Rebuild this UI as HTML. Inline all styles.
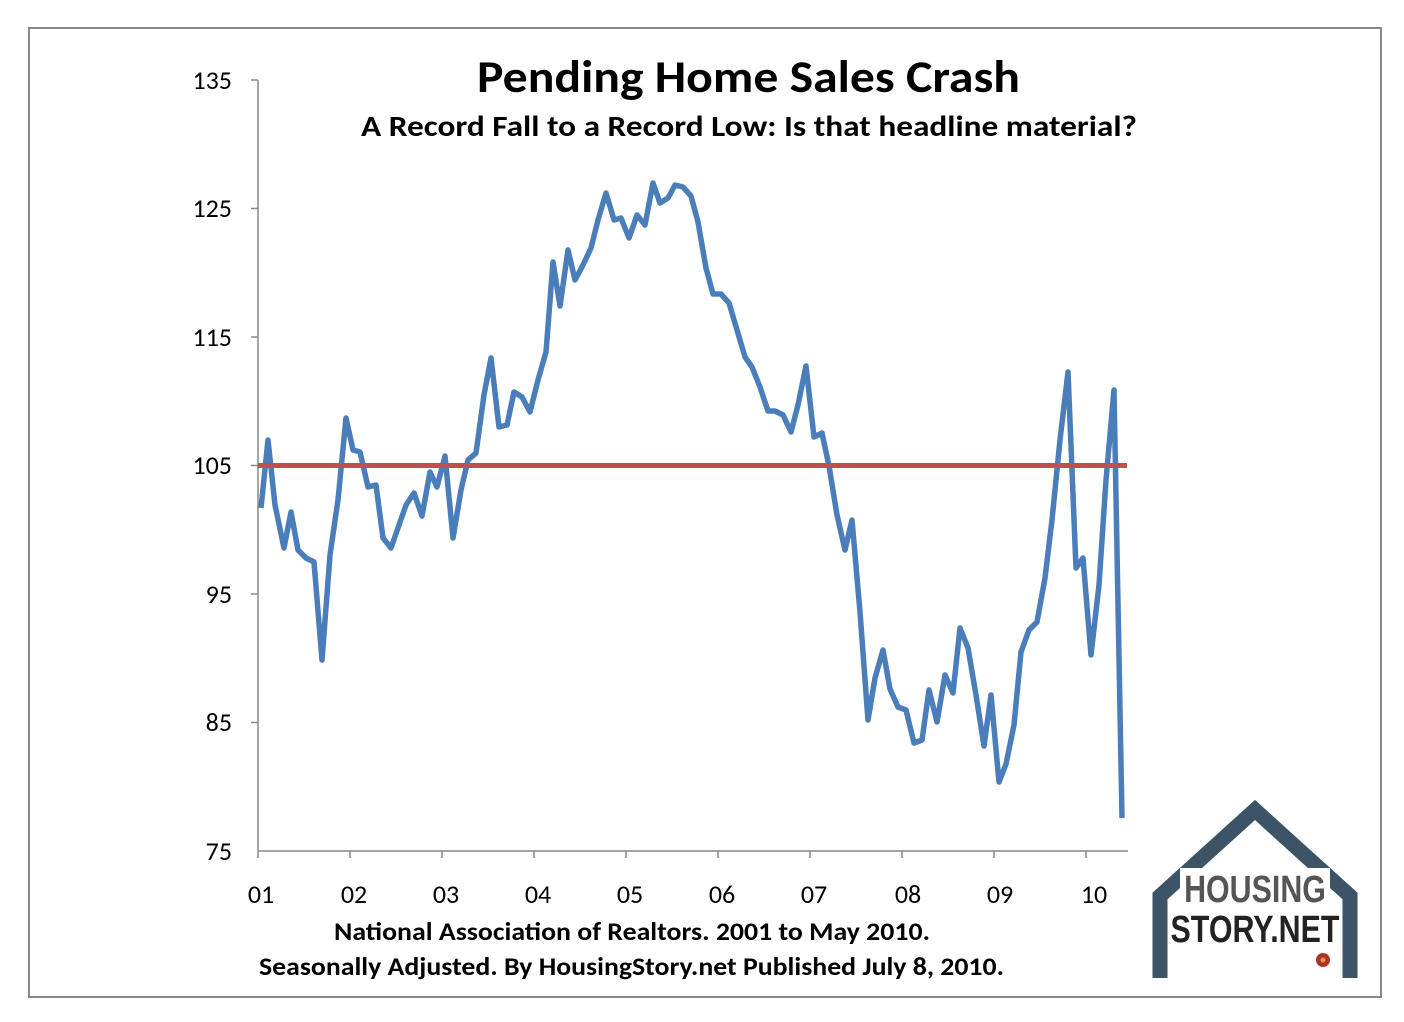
<!DOCTYPE html>
<html><head><style>
body{margin:0;background:#fff;}
svg{display:block;}
</style></head><body>
<svg width="1404" height="1022" xmlns="http://www.w3.org/2000/svg" font-family="Calibri, 'Liberation Sans', sans-serif">
<rect x="0" y="0" width="1404" height="1022" fill="#fff"/>
<rect x="29" y="28" width="1352" height="969" fill="none" stroke="#888" stroke-width="2"/>
<text x="477" y="92" font-size="46" font-weight="bold" fill="#000" textLength="543" lengthAdjust="spacingAndGlyphs">Pending Home Sales Crash</text>
<text x="361" y="136" font-size="29" font-weight="bold" fill="#000" textLength="776" lengthAdjust="spacingAndGlyphs">A Record Fall to a Record Low: Is that headline material?</text>
<g stroke="#888" stroke-width="1.5">
<line x1="258" y1="80" x2="258" y2="851"/>
<line x1="258" y1="851" x2="1128" y2="851"/>
<line x1="251" y1="80" x2="258" y2="80"/>
<line x1="251" y1="208.5" x2="258" y2="208.5"/>
<line x1="251" y1="337" x2="258" y2="337"/>
<line x1="251" y1="465.5" x2="258" y2="465.5"/>
<line x1="251" y1="594" x2="258" y2="594"/>
<line x1="251" y1="722.5" x2="258" y2="722.5"/>
<line x1="258" y1="851" x2="258" y2="858"/>
<line x1="350" y1="851" x2="350" y2="858"/>
<line x1="442" y1="851" x2="442" y2="858"/>
<line x1="534" y1="851" x2="534" y2="858"/>
<line x1="626" y1="851" x2="626" y2="858"/>
<line x1="718" y1="851" x2="718" y2="858"/>
<line x1="810" y1="851" x2="810" y2="858"/>
<line x1="902" y1="851" x2="902" y2="858"/>
<line x1="994" y1="851" x2="994" y2="858"/>
<line x1="1086" y1="851" x2="1086" y2="858"/>
</g>
<g font-size="26" fill="#000" text-anchor="end">
<text x="232" y="89">135</text><text x="232" y="217">125</text><text x="232" y="346">115</text>
<text x="232" y="474">105</text><text x="232" y="603">95</text><text x="232" y="731">85</text><text x="232" y="860">75</text>
</g>
<g font-size="26" fill="#000" text-anchor="middle">
<text x="261" y="903">01</text><text x="354" y="903">02</text><text x="446" y="903">03</text><text x="538" y="903">04</text>
<text x="630" y="903">05</text><text x="722" y="903">06</text><text x="814" y="903">07</text><text x="908" y="903">08</text>
<text x="1000" y="903">09</text><text x="1094" y="903">10</text>
</g>
<text x="334" y="940" font-size="25" font-weight="bold" textLength="596" lengthAdjust="spacingAndGlyphs">National Association of Realtors. 2001 to May 2010.</text>
<text x="259" y="975" font-size="25" font-weight="bold" textLength="745" lengthAdjust="spacingAndGlyphs">Seasonally Adjusted. By HousingStory.net Published July 8, 2010.</text>
<polyline fill="none" stroke="#4a7ebb" stroke-width="5.5" stroke-linejoin="round" points="261,508 268,440 275,505 284,548 291,512 298,550 306,558 314,562 322,660 330,555 338,500 346,418 353,450 360,452 368,487 376,485 383,538 391,548 399,525 406,505 414,493 422,516 430,472 437,487 445,456 453,538 461,490 468,460 476,453 484,395 491,358 499,427 507,425 514,392 522,397 530,412 538,380 546,352 553,262 560,306 568,250 575,280 583,265 591,248 598,220 606,193 614,220 621,218 629,238 637,215 645,225 653,183 660,203 668,198 675,185 683,187 691,196 698,222 706,268 713,294 721,294 729,303 737,330 745,357 752,367 760,387 768,411 775,411 783,415 791,432 798,405 806,366 814,437 822,433 829,466 837,515 845,550 852,520 860,612 868,720 875,678 883,650 890,689 898,707 906,710 914,743 922,740 929,690 937,722 945,675 953,693 960,628 968,648 976,695 984,746 991,695 999,782 1006,764 1014,725 1021,652 1029,630 1037,622 1045,578 1052,520 1060,440 1068,372 1076,568 1083,558 1091,655 1099,585 1106,480 1114,390 1122,818"/>
<line x1="258" y1="465.5" x2="1127" y2="465.5" stroke="#c0504d" stroke-width="5"/>
<g>
<polyline points="1160,978 1160,896 1255,810 1350,896 1350,978" fill="none" stroke="#3d5467" stroke-width="15" stroke-linejoin="miter"/>
<rect x="1180" y="868" width="150" height="90" fill="#fff"/>
<text x="1255" y="902" font-size="38" font-weight="bold" fill="#555" text-anchor="middle" font-family="'Liberation Sans Narrow','Liberation Sans',sans-serif" transform="translate(1255 0) scale(0.8 1) translate(-1255 0)">HOUSING</text>
<text x="1255" y="942" font-size="38" font-weight="bold" fill="#222" text-anchor="middle" font-family="'Liberation Sans Narrow','Liberation Sans',sans-serif" transform="translate(1255 0) scale(0.8 1) translate(-1255 0)">STORY.NET</text>
<circle cx="1323" cy="960" r="7" fill="#b0302a"/>
<circle cx="1323" cy="960" r="2.5" fill="#e0a030"/>
</g>
</svg>
</body></html>
